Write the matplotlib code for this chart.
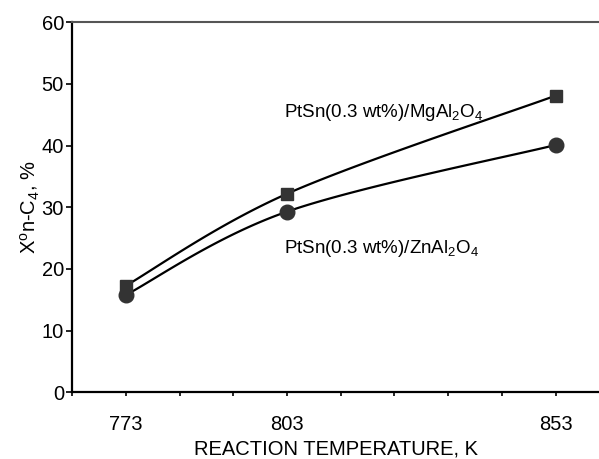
import numpy as np
import matplotlib
matplotlib.use("Agg")
import matplotlib.pyplot as plt

plt.rcParams['font.family'] = ['Liberation Sans', 'DejaVu Sans']
plt.rcParams['mathtext.fontset'] = 'custom'
plt.rcParams['mathtext.rm'] = 'Liberation Sans'
plt.rcParams['mathtext.it'] = 'Liberation Sans:italic'

temps = [773, 803, 853]
mg_vals = [17.3, 32.2, 48.1]
zn_vals = [15.8, 29.3, 40.1]
tick_labels = ['773', '803', '853']
mg_label = r'PtSn(0.3 wt%)/MgAl$_\mathregular{2}$O$_\mathregular{4}$'
zn_label = r'PtSn(0.3 wt%)/ZnAl$_\mathregular{2}$O$_\mathregular{4}$'

XMIN, XMAX, YMIN, YMAX = 763, 861.1, 0, 60

fig = plt.figure(figsize=(5.99, 4.59), dpi=100)
ax = fig.add_axes([0.1207, 0.1453, 1.0 - 0.1207, 0.8061])
ax.set_xlim(XMIN, XMAX)
ax.set_ylim(YMIN, YMAX)


def smooth_curve(xv, yv, n=60):
    """Spreadsheet-style smoothed line (cardinal Bezier) in display space."""
    pts = ax.transData.transform(np.column_stack([xv, yv]))
    ext = np.vstack([pts[0], pts, pts[-1]])
    out = []
    t = np.linspace(0, 1, n)[:, None]
    for i in range(len(pts) - 1):
        p0, p3 = ext[i + 1], ext[i + 2]
        p1 = p0 + (ext[i + 2] - ext[i]) / 6.0
        p2 = p3 - (ext[i + 3] - ext[i + 1]) / 6.0
        seg = ((1 - t) ** 3) * p0 + 3 * ((1 - t) ** 2) * t * p1 \
            + 3 * (1 - t) * t ** 2 * p2 + t ** 3 * p3
        out.append(seg)
    out = np.vstack(out)
    return ax.transData.inverted().transform(out)


for vals, marker, ms in [(mg_vals, 's', 8.5), (zn_vals, 'o', 10.5)]:
    c = smooth_curve(temps, vals)
    ax.plot(c[:, 0], c[:, 1], color='black', lw=1.6, zorder=2)
    ax.plot(temps, vals, linestyle='none', marker=marker, ms=ms,
            color='#333333', mec='#333333', zorder=3)

ax.set_xticks(temps)
ax.set_xticklabels(tick_labels)
ax.set_xticks(np.arange(763, 854, 10), minor=True)
ax.set_yticks(np.arange(0, 61, 10))

ax.tick_params(axis='x', which='both', direction='out', length=3, width=1.2,
               labelsize=14.5, pad=13)
ax.tick_params(axis='y', which='both', direction='out', length=4, width=1.2,
               labelsize=14.5, pad=2)

for s in ['left', 'bottom']:
    ax.spines[s].set_linewidth(1.6)
    ax.spines[s].set_color('black')
ax.spines['right'].set_visible(False)
ax.spines['top'].set_color('#555555')
ax.spines['top'].set_linewidth(1.5)

ax.set_xlabel('REACTION TEMPERATURE, K', fontsize=14.5, labelpad=4)
ax.set_ylabel(r'X$^\mathregular{o}$n-C$_\mathregular{4}$, %', fontsize=14.5, labelpad=0)

ax.text(802.5, 45.3, mg_label, fontsize=13.5, ha='left', va='center')
ax.text(802.5, 23.3, zn_label, fontsize=13.5, ha='left', va='center')

fig.savefig('out.png', dpi=100)
